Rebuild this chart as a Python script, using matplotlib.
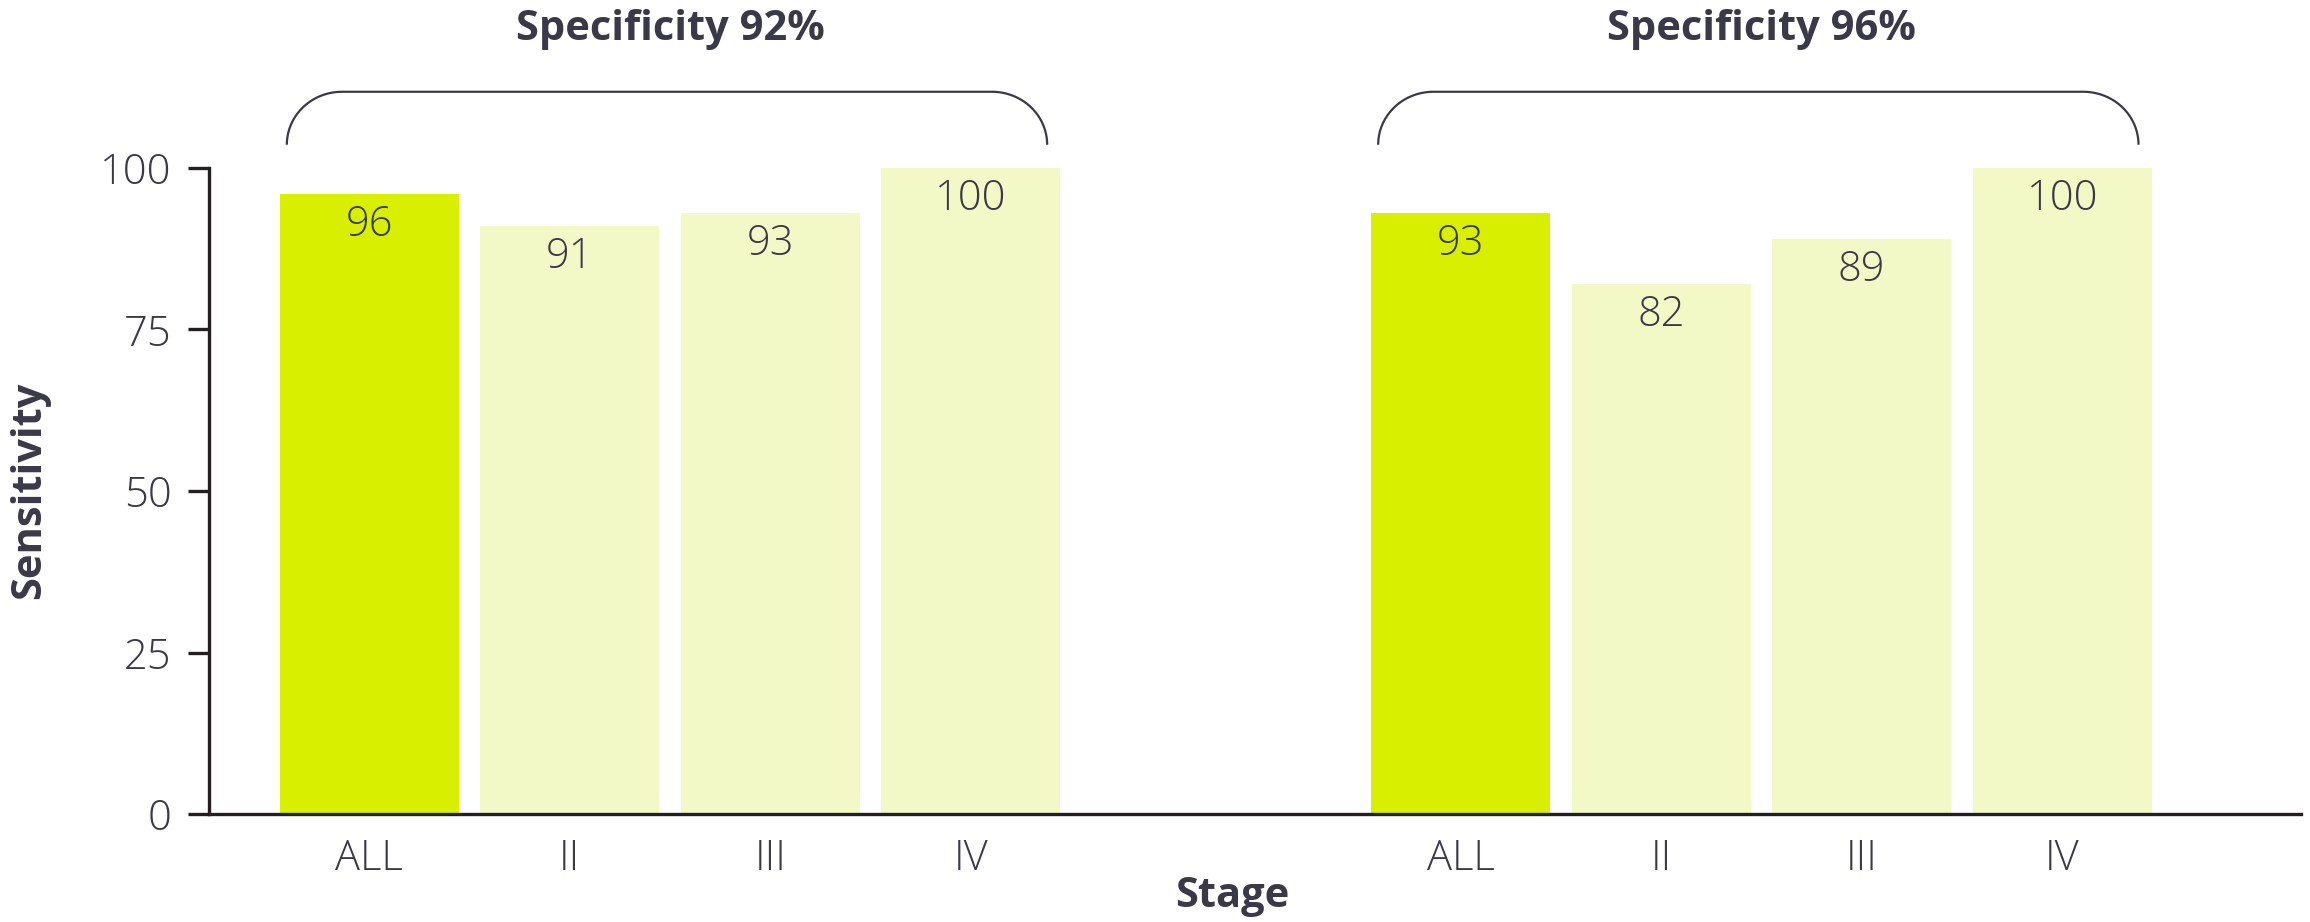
import matplotlib
matplotlib.use('Agg')
import matplotlib.pyplot as plt
import numpy as np

# Data
stages = ['ALL', 'II', 'III', 'IV']
group_titles = ['Specificity 92%', 'Specificity 96%']
sens_spec92 = [96, 91, 93, 100]
sens_spec96 = [93, 82, 89, 100]
yticks = [0, 25, 50, 75, 100]

TEXT = '#3a3947'
AXIS = '#231f20'
LIME = '#d8f000'
PALE = '#f3f9c6'
FONT = 'Open Sans'
LIGHT = 'light'

plt.rcParams['font.family'] = [FONT, 'DejaVu Sans']

group_offsets = [0.0, 5.44]
width = 0.892

fig = plt.figure(figsize=(23.1, 9.22), dpi=100)
ax = fig.add_axes([209/2310, 1 - 814/922, (2301 - 209)/2310, (814 - 168)/922])

def bracket(x0, x1, y_top, y_end, rx, ry):
  # rounded bracket spanning a group of bars
  t = np.linspace(0, np.pi/2, 40)
  lx = x0 + rx - rx*np.cos(t)
  ly = y_top - ry + ry*np.sin(t)
  rxs = x1 - rx + rx*np.cos(t[::-1])
  rys = y_top - ry + ry*np.sin(t[::-1])
  xs = np.concatenate([[x0], lx, rxs, [x1]])
  ys = np.concatenate([[y_end], ly, rys, [y_end]])
  ax.plot(xs, ys, color=TEXT, lw=1.6, clip_on=False, solid_capstyle='butt')

all_ticks = []
all_labels = []
for off, title, vals in zip(group_offsets, group_titles, [sens_spec92, sens_spec96]):
  x = np.arange(len(stages)) + off
  colors = [LIME] + [PALE]*(len(stages) - 1)
  bars = ax.bar(x, vals, width, color=colors, zorder=2)
  for b, v in zip(bars, vals):
    ax.annotate(str(v), xy=(b.get_x() + b.get_width()/2, v),
                xytext=(0, -22), textcoords='offset points',
                ha='center', va='center', fontsize=30, color=TEXT,
                fontweight=LIGHT)
  all_ticks.extend(x)
  all_labels.extend(stages)
  bracket(x[0] - 0.41, x[-1] + 0.38, 111.8, 103.6, 0.275, 8.2)
  ax.text((x[0] + x[-1])/2, 121.5, title, ha='center', va='center',
          fontsize=30, fontweight='bold', color=TEXT, clip_on=False)

ax.set_xlim(-0.798, 9.63)
ax.set_ylim(0, 100)
ax.set_yticks(yticks)
ax.set_xticks(all_ticks)
ax.set_xticklabels(all_labels)

for s in ['top', 'right']:
  ax.spines[s].set_visible(False)
for s in ['left', 'bottom']:
  ax.spines[s].set_linewidth(2.4)
  ax.spines[s].set_color(AXIS)

ax.tick_params(axis='y', length=15, width=2.4, color=AXIS, pad=12,
               labelsize=30, labelcolor=TEXT)
ax.tick_params(axis='x', length=0, pad=17, labelsize=30, labelcolor=TEXT)
for lab in ax.get_xticklabels() + ax.get_yticklabels():
  lab.set_fontweight(LIGHT)

fig.text(30/2310, 1 - 490/922, 'Sensitivity', rotation=90, ha='center', va='center',
         fontsize=30, fontweight='bold', color=TEXT)
fig.text(1232/2310, 1 - 896/922, 'Stage', ha='center', va='center',
         fontsize=30, fontweight='bold', color=TEXT)

fig.savefig('out.png', dpi=100)
